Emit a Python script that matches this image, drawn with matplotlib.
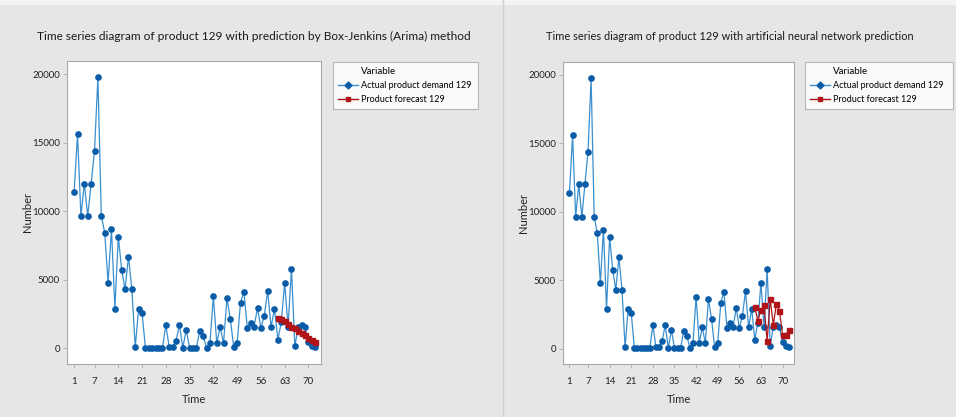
"""
Product 129 demand: actual series vs ARIMA and ANN forecasts (Minitab-style panels)
"""

import matplotlib
matplotlib.use("Agg")
import matplotlib.pyplot as plt
from matplotlib.lines import Line2D
from matplotlib.patches import Rectangle

plt.rcParams['font.family'] = ['Lato', 'DejaVu Sans']

# data
time = list(range(1, 73))
actual_129 = [11400, 15600, 9650, 12000, 9650, 12000, 14400, 19750, 9650, 8450,
              4800, 8700, 2900, 8150, 5750, 4300, 6700, 4300, 100, 2900,
              2600, 50, 50, 50, 50, 50, 50, 1700, 100, 100,
              550, 1700, 50, 1350, 50, 50, 50, 1300, 900, 50,
              400, 3800, 400, 1550, 400, 3650, 2150, 100, 400, 3350,
              4150, 1500, 1850, 1600, 2950, 1500, 2400, 4200, 1550, 2900,
              650, 1900, 4800, 1550, 5800, 150, 1600, 1700, 1550, 450,
              150, 100]
forecast_time = list(range(61, 73))
arima_forecast = [2240, 2160, 1990, 1800, 1600, 1510, 1310, 1120, 950, 780, 630, 460]
ann_forecast = [3050, 1990, 2830, 3160, 560, 3600, 1700, 3290, 2730, 990, 990, 1330]

x_ticks = [1, 7, 14, 21, 28, 35, 42, 49, 56, 63, 70]
y_ticks = [0, 5000, 10000, 15000, 20000]

titles = ["Time series diagram of product 129 with prediction by Box-Jenkins (Arima) method",
          "Time series diagram of product 129 with artificial neural network prediction"]
legend_labels = ["Actual product demand 129", "Product forecast 129"]

# colours
BG = '#e6e6e6'
BLUE_LINE = '#3a8fcf'
BLUE_MARK = '#0a5ca8'
RED = '#b01419'
SPINE = '#a8a8a8'

W, H = 956, 417
fig = plt.figure(figsize=(W / 100, H / 100), dpi=100)
fig.patch.set_facecolor(BG)

# thin light strip at the top and divider between the two graphs
fig.patches.append(Rectangle((0, 1 - 5 / H), 1, 5 / H, transform=fig.transFigure,
                             facecolor='#f4f4f4', edgecolor='none', zorder=0))
fig.add_artist(Line2D([503 / W, 503 / W], [0, 1], color='#d0d0d0', lw=1.0))


def px_box(x0, y0, x1, y1):
    """pixel box (top-left origin) -> figure fraction [left, bottom, width, height]"""
    return [x0 / W, 1 - y1 / H, (x1 - x0) / W, (y1 - y0) / H]


panels = [
    dict(box=px_box(67, 61, 321, 364), forecast=arima_forecast, title=titles[0],
         title_x=254, title_size=8.6, ylabel_x=28, leg=(333, 62, 478)),
    dict(box=px_box(563, 62, 794, 364), forecast=ann_forecast, title=titles[1],
         title_x=730, title_size=7.9, ylabel_x=523, leg=(805, 62, 953)),
]

for p in panels:
    ax = fig.add_axes(p['box'])
    ax.set_facecolor('white')

    ax.plot(time, actual_129, color=BLUE_LINE, lw=0.9, marker='o', ms=3.8,
            mfc=BLUE_MARK, mec=BLUE_MARK, zorder=3)
    ax.plot(forecast_time, p['forecast'], color=RED, lw=0.9, marker='s', ms=3.6,
            mfc=RED, mec=RED, zorder=4)

    ax.set_xlim(-1.1, 73.7)
    ax.set_ylim(-1130, 20950)
    ax.set_xticks(x_ticks)
    ax.set_yticks(y_ticks)
    ax.tick_params(labelsize=7, length=3, width=0.6, color=SPINE, pad=2,
                   labelcolor='#222222')
    ax.tick_params(axis='x', pad=6)
    for s in ax.spines.values():
        s.set_color(SPINE)
        s.set_linewidth(0.8)

    bb = ax.get_position()
    ax.set_xlabel('Time', fontsize=8, color='#222222', labelpad=6)
    fig.text(p['ylabel_x'] / W, bb.y0 + bb.height / 2, 'Number', rotation=90,
             fontsize=8, color='#222222', ha='center', va='center')
    fig.text(p['title_x'] / W, 1 - 36 / H, p['title'], fontsize=p['title_size'],
             color='#1a1a1a', ha='center', va='center')

    # legend: first row is an invisible handle carrying the "Variable" header
    handles = [Line2D([], [], color='none'),
               Line2D([], [], color=BLUE_LINE, lw=1.0, marker='D', ms=3.5,
                      mfc=BLUE_MARK, mec=BLUE_MARK),
               Line2D([], [], color=RED, lw=1.0, marker='s', ms=3.5,
                      mfc=RED, mec=RED)]
    lx0, ly0, lx1 = p['leg']
    leg = fig.legend(handles, ['Variable'] + legend_labels, loc='upper left',
                     bbox_to_anchor=(lx0 / W, 1 - ly0 / H, (lx1 - lx0) / W, 0.0),
                     bbox_transform=fig.transFigure, mode='expand',
                     fontsize=6.5, frameon=True, fancybox=False, handlelength=2.2,
                     handletextpad=0.3, borderpad=0.55, labelspacing=0.55,
                     borderaxespad=0)
    leg.get_frame().set_edgecolor(SPINE)
    leg.get_frame().set_linewidth(0.8)
    leg.get_texts()[0].set_fontsize(7)

fig.savefig('out.png', dpi=100, facecolor=fig.get_facecolor())
